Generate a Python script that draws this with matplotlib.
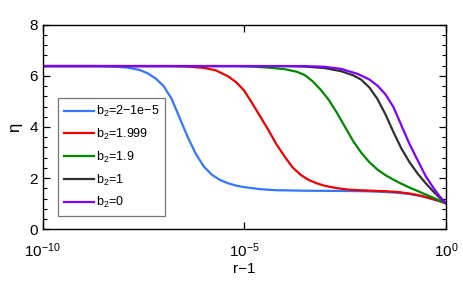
import matplotlib
matplotlib.use("Agg")
import matplotlib.pyplot as plt
from matplotlib.ticker import FixedLocator, LogFormatterMathtext, MultipleLocator, NullLocator

plt.rcParams["font.family"] = ["Liberation Sans", "DejaVu Sans"]
plt.rcParams["mathtext.default"] = "regular"

# log10(r-1) and eta
x_blue = [-10, -8.6, -8.2, -7.9, -7.6, -7.4, -7.2, -7.0, -6.8, -6.6, -6.4, -6.2, -6.0, -5.8,
          -5.6, -5.4, -5.2, -5.0, -4.6, -4.2, -3.5, -2.5, -2.0, -1.5, -1.2, -0.9, -0.6,
          -0.4, -0.2, 0]
y_blue = [6.38, 6.38, 6.36, 6.32, 6.23, 6.10, 5.90, 5.60, 5.10, 4.35, 3.60, 2.95, 2.45, 2.13,
          1.93, 1.80, 1.71, 1.65, 1.57, 1.53, 1.51, 1.50, 1.49, 1.46, 1.43, 1.38, 1.29,
          1.21, 1.12, 1.02]

x_red = [-10, -6.8, -6.4, -6.0, -5.7, -5.4, -5.2, -5.0, -4.8, -4.6, -4.4, -4.2, -4.0, -3.8,
         -3.6, -3.4, -3.2, -3.0, -2.7, -2.4, -2.0, -1.5, -1.2, -0.9, -0.6, -0.4, -0.2, 0]
y_red = [6.38, 6.38, 6.36, 6.31, 6.21, 5.98, 5.75, 5.42, 4.92, 4.40, 3.88, 3.32, 2.85, 2.42,
         2.13, 1.93, 1.80, 1.70, 1.61, 1.55, 1.52, 1.49, 1.46, 1.40, 1.31, 1.22, 1.13, 1.02]

x_green = [-10, -5.2, -4.8, -4.4, -4.0, -3.7, -3.5, -3.3, -3.1, -2.9, -2.7, -2.5, -2.3, -2.1,
           -1.9, -1.7, -1.5, -1.3, -1.1, -0.9, -0.7, -0.5, -0.3, -0.15, 0]
y_green = [6.38, 6.38, 6.36, 6.32, 6.26, 6.16, 6.03, 5.78, 5.45, 5.05, 4.55, 4.00, 3.45, 3.00,
           2.63, 2.34, 2.12, 1.94, 1.78, 1.63, 1.50, 1.36, 1.23, 1.12, 1.03]

x_black = [-10, -4.0, -3.5, -3.0, -2.6, -2.3, -2.1, -1.9, -1.7, -1.5, -1.3, -1.1, -0.9, -0.7,
           -0.5, -0.3, -0.15, 0]
y_black = [6.38, 6.38, 6.36, 6.30, 6.18, 6.02, 5.85, 5.55, 5.10, 4.50, 3.80, 3.15, 2.62, 2.18,
           1.80, 1.46, 1.23, 1.03]

x_purple = [-10, -3.5, -3.0, -2.6, -2.2, -1.9, -1.7, -1.5, -1.3, -1.1, -0.9, -0.7, -0.5, -0.3,
            -0.15, 0]
y_purple = [6.38, 6.38, 6.35, 6.27, 6.08, 5.86, 5.62, 5.28, 4.78, 4.05, 3.33, 2.70, 2.08, 1.60,
            1.28, 1.03]

labels = ["b$_2$=2\u22121e\u22125", "b$_2$=1.999", "b$_2$=1.9", "b$_2$=1", "b$_2$=0"]
colors = ["#3377ff", "#ee0000", "#008800", "#303030", "#7f00ff"]

series = [(x_blue, y_blue), (x_red, y_red), (x_green, y_green),
          (x_black, y_black), (x_purple, y_purple)]

fig = plt.figure(figsize=(4.63, 2.86), dpi=100)
ax = fig.add_axes([0.092, 0.198, 0.871, 0.716])

for (xs, ys), lab, c in zip(series, labels, colors):
    ax.plot([10.0 ** v for v in xs], ys, color=c, lw=1.6, label=lab)

ax.set_xscale("log")
ax.set_xlim(1e-10, 1)
ax.set_ylim(0, 8)
ax.xaxis.set_major_locator(FixedLocator([1e-10, 1e-5, 1]))
ax.xaxis.set_major_formatter(LogFormatterMathtext())
ax.xaxis.set_minor_locator(NullLocator())
ax.yaxis.set_major_locator(MultipleLocator(2))
ax.yaxis.set_minor_locator(MultipleLocator(0.4))
ax.tick_params(which="both", direction="in", top=True, right=True, labelsize=11)
ax.tick_params(axis="x", pad=8.5)
ax.tick_params(which="major", length=5, width=0.9)
ax.tick_params(which="minor", length=3, width=0.8)
for s in ax.spines.values():
    s.set_linewidth(1.0)

ax.set_xlabel("r\u22121", fontsize=11, labelpad=1.5)
ax.set_ylabel("\u03b7", fontsize=12, labelpad=5)

leg = ax.legend(loc="lower left", bbox_to_anchor=(0.038, 0.065), fontsize=9.0,
                fancybox=False, framealpha=1, edgecolor="#777777",
                handlelength=2.4, handletextpad=0.2, labelspacing=0.62,
                borderaxespad=0, borderpad=0.45)
leg.get_frame().set_linewidth(0.9)

fig.savefig("out.png", dpi=100)
